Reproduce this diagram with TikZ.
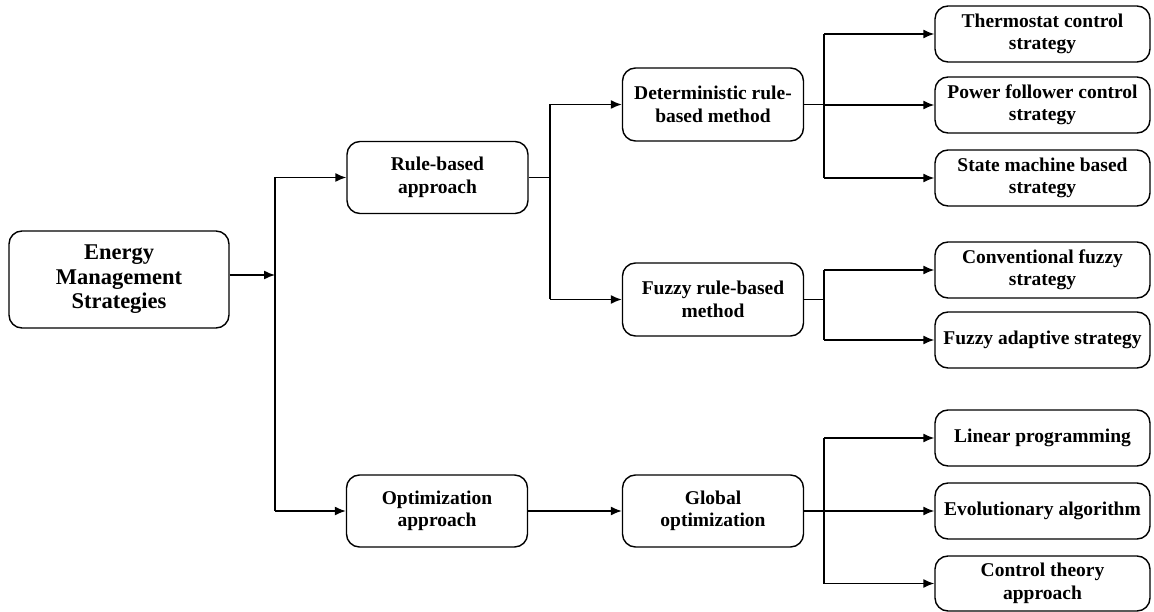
\documentclass[tikz,border=0pt]{standalone}
\usepackage{fontspec}
\setmainfont{Liberation Serif}
\usetikzlibrary{arrows.meta}
\begin{document}
\begin{tikzpicture}[x=1pt,y=-1pt,
  box/.style={draw,line width=1.4pt,rounded corners=13pt,align=center,
    font=\bfseries\fontsize{19.5}{22.5}\selectfont,inner sep=0pt},
  leaf/.style={box,minimum width=215pt,minimum height=56pt},
  mid/.style={box,minimum width=181pt,minimum height=72pt},
  conn/.style={line width=1.4pt},
  arr/.style={conn,-{Latex[length=11pt,width=9pt]}}]
\useasboundingbox (0,0) rectangle (1154,612);
% nodes
\node[box,minimum width=220pt,minimum height=97pt,font=\bfseries\fontsize{22.5}{24.5}\selectfont] (E) at (119,279.5) {Energy\\Management\\Strategies};
\node[mid] (R) at (437.5,177.5) {Rule-based\\approach};
\node[mid] (O) at (437,511) {Optimization\\approach};
\node[mid,minimum height=73pt] (D) at (713,104.5) {Deterministic rule-\\based method};
\node[mid,minimum height=73pt] (F) at (713,299.5) {Fuzzy rule-based\\method};
\node[mid,minimum height=72pt] (G) at (713,511) {Global\\optimization};
\node[leaf] (T1) at (1042.5,34) {Thermostat control\\strategy};
\node[leaf] (T2) at (1042.5,105) {Power follower control\\strategy};
\node[leaf] (T3) at (1042.5,178) {State machine based\\strategy};
\node[leaf] (C1) at (1042.5,270) {Conventional fuzzy\\strategy};
\node[leaf] (C2) at (1042.5,340) {Fuzzy adaptive strategy};
\node[leaf] (L1) at (1042.5,438) {Linear programming};
\node[leaf] (L2) at (1042.5,511) {Evolutionary algorithm};
\node[leaf,minimum height=55pt] (L3) at (1042.5,583.5) {Control theory\\approach};
% junction coordinates
\coordinate (jE) at (275,275);
\coordinate (jR) at (550,177.5);
\coordinate (jD) at (824,104.5);
\coordinate (jF) at (824,299.5);
\coordinate (jG) at (824,511);
% connectors
\draw[arr] (E.east |- jE) -- (jE);
\draw[conn] (jE |- R.west) -- (jE |- O.west);
\draw[arr] (jE |- R.west) -- (R.west);
\draw[arr] (jE |- O.west) -- (O.west);
\draw[conn] (R.east) -- (jR);
\draw[conn] (jR |- D.west) -- (jR |- F.west);
\draw[arr] (jR |- D.west) -- (D.west);
\draw[arr] (jR |- F.west) -- (F.west);
\draw[arr] (O.east) -- (G.west);
\draw[conn] (D.east) -- (jD);
\draw[conn] (jD |- T1.west) -- (jD |- T3.west);
\draw[arr] (jD |- T1.west) -- (T1.west);
\draw[arr] (jD |- T2.west) -- (T2.west);
\draw[arr] (jD |- T3.west) -- (T3.west);
\draw[conn] (F.east) -- (jF);
\draw[conn] (jF |- C1.west) -- (jF |- C2.west);
\draw[arr] (jF |- C1.west) -- (C1.west);
\draw[arr] (jF |- C2.west) -- (C2.west);
\draw[conn] (G.east) -- (jG);
\draw[conn] (jG |- L1.west) -- (jG |- L3.west);
\draw[arr] (jG |- L1.west) -- (L1.west);
\draw[arr] (jG |- L2.west) -- (L2.west);
\draw[arr] (jG |- L3.west) -- (L3.west);
\end{tikzpicture}
\end{document}
